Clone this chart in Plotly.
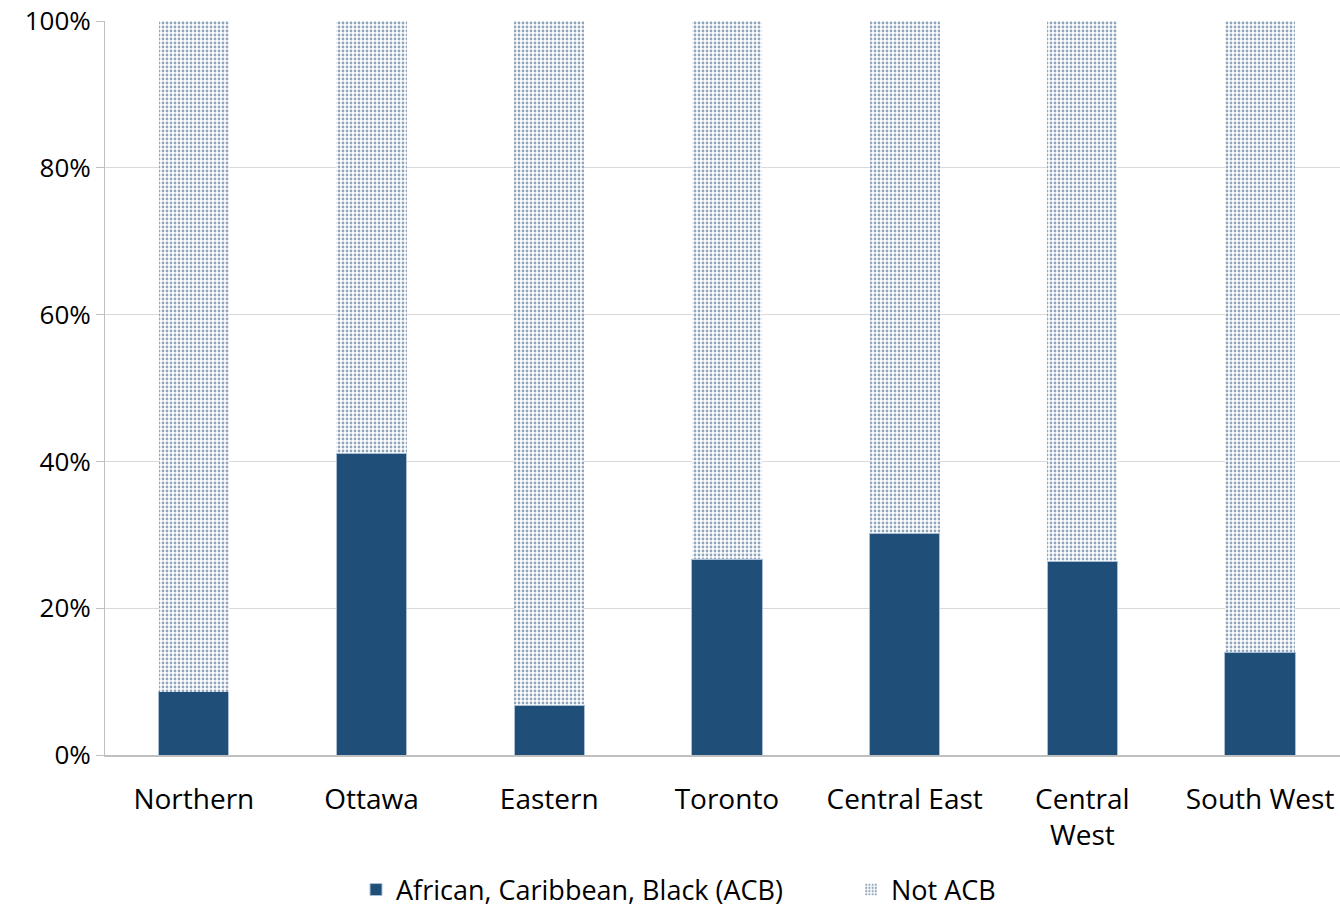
import plotly.graph_objects as go

regions = ["Northern", "Ottawa", "Eastern", "Toronto", "Central East", "Central<br>West", "South West"]
acb_share = [8.6, 41.1, 6.8, 26.7, 30.2, 26.4, 14.0]
not_acb_share = [round(100 - v, 1) for v in acb_share]

NAVY = "#1f4e79"
FONT = "'Open Sans', Lato, sans-serif"

fig = go.Figure()
fig.add_trace(go.Bar(
    x=regions, y=acb_share, name="African, Caribbean, Black (ACB)",
    marker=dict(color=NAVY, line=dict(color="#a9bfd6", width=1)),
))
fig.add_trace(go.Bar(
    x=regions, y=not_acb_share, name="Not ACB",
    marker=dict(color="white", line=dict(width=0),
                pattern=dict(shape=".", fgcolor=NAVY, bgcolor="white",
                             size=4, solidity=0.38)),
))

fig.update_layout(
    barmode="stack",
    bargap=0.605,
    width=1340, height=909,
    margin=dict(l=105, r=0, t=21, b=154, autoexpand=False),
    plot_bgcolor="white", paper_bgcolor="white",
    font=dict(family=FONT, size=28, color="#000000"),
    legend=dict(orientation="h", xref="container", x=356 / 1340, xanchor="left",
                yref="container", y=19 / 909, yanchor="middle",
                font=dict(size=27), itemwidth=30, entrywidth=450,
                traceorder="normal"),
    showlegend=True,
)
fig.update_yaxes(
    range=[0, 100], dtick=20, ticksuffix="%",
    showgrid=True, gridcolor="#d9d9d9", gridwidth=1,
    showline=True, linecolor="#bfbfbf", linewidth=1,
    ticks="outside", ticklen=8, tickcolor="#bfbfbf",
    zeroline=False, tickfont=dict(size=26), automargin=False,
)
fig.update_xaxes(
    range=[-0.5, 6.45],
    showline=True, linecolor="#bfbfbf", linewidth=2,
    ticks="", tickfont=dict(size=28), ticklabelstandoff=18,
    automargin=False,
)

fig.write_html("out.html")
